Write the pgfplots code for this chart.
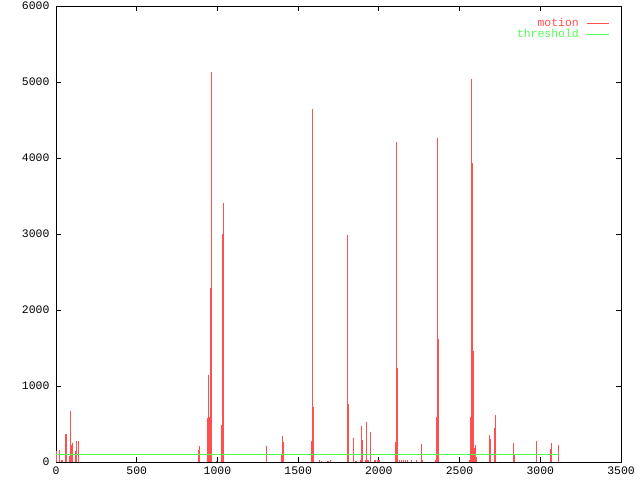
\documentclass[border=0pt]{standalone}
\usepackage{pgfplots}
\pgfplotsset{compat=1.18}
\usepackage{fontspec}
\setmainfont{Liberation Mono}
\definecolor{motionred}{RGB}{255,80,80}
\definecolor{threshgreen}{RGB}{80,255,80}
\begin{document}
\begin{tikzpicture}
\useasboundingbox (-56bp,-18bp) rectangle (584bp,462bp);
\begin{axis}[
  at={(0,0)}, anchor=south west,
  scale only axis,
  width=565bp, height=456bp,
  xmin=0, xmax=3500, ymin=0, ymax=6000,
  xtick={0,500,...,3500},
  ytick={0,1000,...,6000},
  scaled ticks=false,
  /pgf/number format/1000 sep={},
  /pgf/number format/assume math mode=true,
  tick label style={font=\fontsize{11.5}{13}\selectfont},
  major tick length=5bp,
  tick style={black, line width=0.8bp},
  axis line style={line width=0.8bp},
  xticklabel style={yshift=-1bp},
  yticklabel style={xshift=-3bp},
  legend style={at={(axis description cs:1,1)}, anchor=north east,
    xshift=-8bp, yshift=-8bp, draw=none, fill=none,
    font=\fontsize{11.5}{13}\selectfont, row sep=-2.5bp},
  legend cell align=right,
  legend plot pos=right,
]
% motion, drawn as impulses
\addplot[ycomb, motionred, line width=1bp, no markers,
  legend image code/.code={\path (0bp,0bp); \draw[motionred, line width=1bp] (6bp,0bp) -- (28bp,0bp);}]
  coordinates {
  (6,145) (19,158) (31,26) (40,26) (59,368) (65,368) (84,79) (90,671)
  (96,224) (102,254) (121,149) (127,276) (142,276)
  (880,158) (886,210) (938,583) (945,1145) (951,596) (957,2290) (963,5130)
  (997,13) (1025,487) (1031,3004) (1038,3405)
  (1301,210) (1307,205) (1394,105) (1400,342) (1412,267)
  (1580,280) (1586,4645) (1592,802) (1598,723)
  (1630,25) (1645,17) (1682,17) (1690,17) (1700,20)
  (1806,2987) (1812,763) (1843,316) (1855,17) (1862,17)
  (1887,20) (1893,474) (1899,290) (1918,20) (1924,526) (1930,20) (1936,20)
  (1948,395) (1970,20) (1980,25) (1990,25) (2000,25) (2007,30)
  (2103,263) (2109,4210) (2116,1237)
  (2128,25) (2140,25) (2152,25) (2165,20) (2177,20) (2204,20) (2234,20)
  (2264,237) (2270,30)
  (2351,20) (2357,596) (2363,4263) (2370,1618)
  (2562,20) (2568,596) (2574,5040) (2580,3940) (2586,1465) (2593,184) (2599,228) (2605,60)
  (2685,355) (2692,303) (2716,452) (2722,618)
  (2837,254) (2843,100) (2974,276) (3064,171) (3070,254) (3113,228)
  };
\addlegendentry{\textcolor{motionred}{motion}}
\addplot[motionred, line width=1bp, forget plot] coordinates {(0,0) (3116,0)};
% threshold
\addplot[threshgreen, line width=1bp,
  legend image code/.code={\path (0bp,0bp); \draw[threshgreen, line width=1bp] (6bp,0bp) -- (28bp,0bp);}]
  coordinates {(0,100) (3116,100)};
\addlegendentry{\textcolor{threshgreen}{threshold}}
\end{axis}
\end{tikzpicture}
\end{document}
